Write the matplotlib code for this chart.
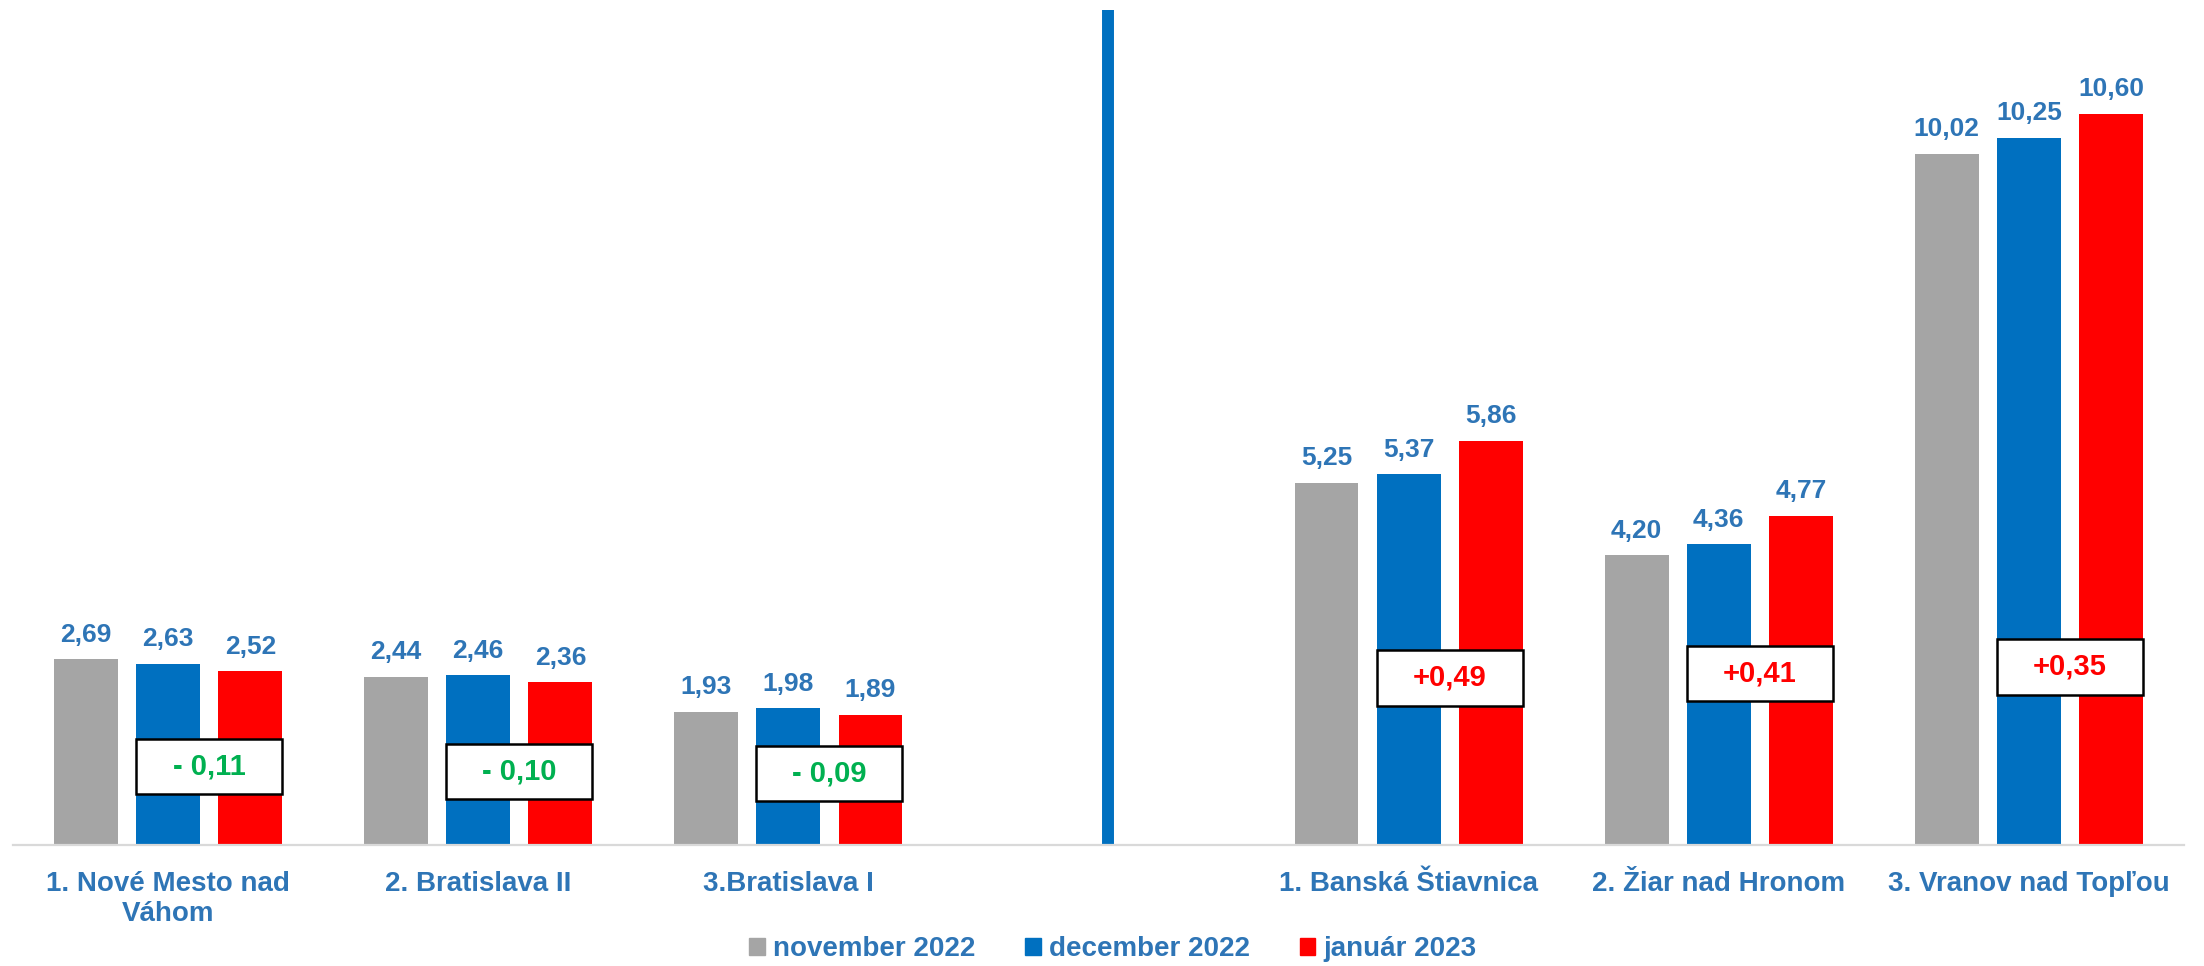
import numpy as np
import matplotlib.pyplot as plt
from matplotlib.patches import Rectangle, Patch

plt.rcParams['font.family'] = ['Liberation Sans', 'DejaVu Sans']
plt.rcParams['font.weight'] = 'bold'

# Data (empty slot in the middle separates the two groups)
categories = ['1. Nové Mesto nad\nVáhom', '2. Bratislava II', '3.Bratislava I', '',
              '1. Banská Štiavnica', '2. Žiar nad Hronom', '3. Vranov nad Topľou']
nov_2022 = [2.69, 2.44, 1.93, np.nan, 5.25, 4.20, 10.02]
dec_2022 = [2.63, 2.46, 1.98, np.nan, 5.37, 4.36, 10.25]
jan_2023 = [2.52, 2.36, 1.89, np.nan, 5.86, 4.77, 10.60]
series_names = ['november 2022', 'december 2022', 'január 2023']

# vertical position (data units) of the change boxes
box_y = [1.14, 1.07, 1.04, np.nan, 2.42, 2.48, 2.58]

gray, blue, red = '#A5A5A5', '#0070C0', '#FF0000'
txt_blue = '#2E75B6'
green = '#00B050'

fig = plt.figure(figsize=(22.04, 9.66), dpi=100)
ax = fig.add_axes([13/2204, 121/966, (2184-13)/2204, 835/966])

x = np.arange(len(categories))
w = 0.206
off = 0.265
for vals, col, dx in zip([nov_2022, dec_2022, jan_2023], [gray, blue, red], [-off, 0, off]):
    ax.bar(x + dx, vals, width=w, color=col, zorder=2)
    for xi, v in zip(x + dx, vals):
        if np.isnan(v):
            continue
        ax.annotate(f'{v:.2f}'.replace('.', ','), (xi, v), xytext=(0, 9),
                    textcoords='offset points', ha='center', va='bottom',
                    fontsize=19, color=txt_blue, fontweight='bold')

# change boxes (january vs december)
bh = 0.8
for xi, d, j, yb in zip(x, dec_2022, jan_2023, box_y):
    if np.isnan(d):
        continue
    ch = round(j - d, 2)
    if ch < 0:
        label, col = '- ' + f'{abs(ch):.2f}'.replace('.', ','), green
    else:
        label, col = '+' + f'{ch:.2f}'.replace('.', ','), red
    left = xi - w / 2
    right = xi + off + w / 2
    ax.add_patch(Rectangle((left, yb - bh / 2), right - left, bh, facecolor='white',
                           edgecolor='black', linewidth=1.8, zorder=3))
    ax.text((left + right) / 2, yb, label, ha='center', va='center', fontsize=21,
            color=col, fontweight='bold', zorder=4)

# divider between the two groups
ax.axvline(3.03, ymin=0, ymax=1, color=blue, linewidth=8.6, zorder=1)

ax.set_xlim(-0.5, 6.5)
ax.set_ylim(0, 12.1)
ax.set_xticks(x)
ax.set_xticklabels(categories, fontsize=20, color=txt_blue, fontweight='bold',
                   linespacing=1.2)
ax.tick_params(axis='x', length=0, pad=19)
ax.set_yticks([])
for s in ['top', 'right', 'left']:
    ax.spines[s].set_visible(False)
ax.spines['bottom'].set_color('#D9D9D9')
ax.spines['bottom'].set_linewidth(1.6)

handles = [Patch(color=c) for c in [gray, blue, red]]
fig.legend(handles, series_names, loc='center', bbox_to_anchor=(0.505, 0.0176),
           ncol=3, frameon=False, fontsize=20, labelcolor=txt_blue,
           handlelength=0.55, handleheight=0.55, handletextpad=0.3, columnspacing=1.8,
           borderpad=0, borderaxespad=0)

fig.savefig('out.png', dpi=100)
